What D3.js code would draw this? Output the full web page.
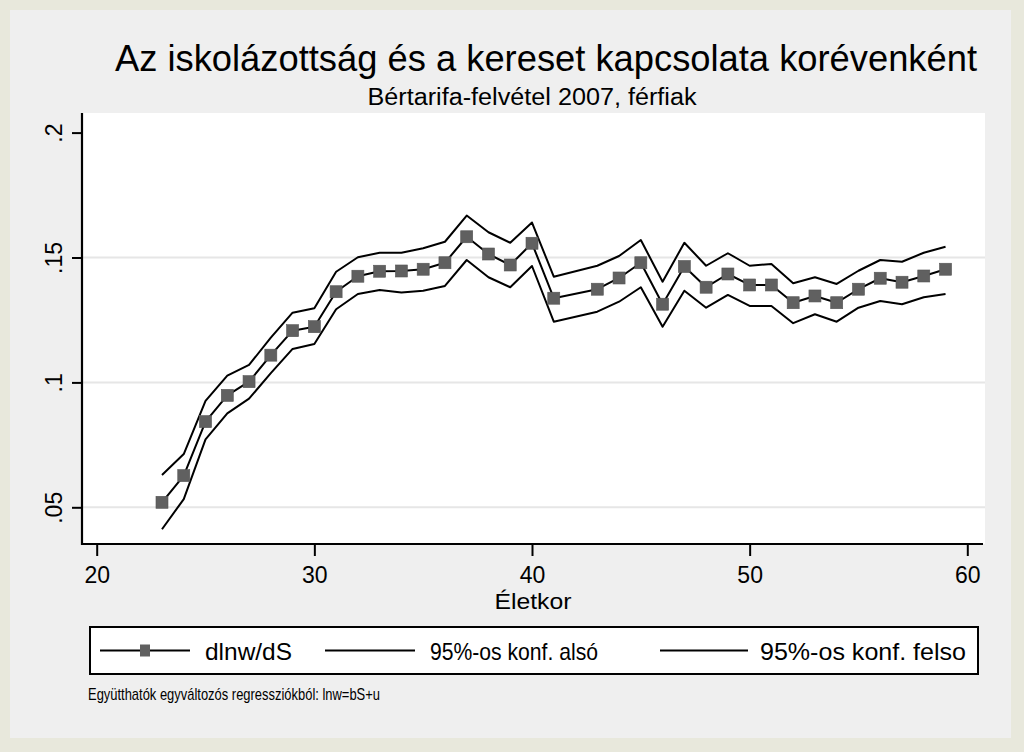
<!DOCTYPE html>
<html><head><meta charset="utf-8">
<script src="https://cdn.jsdelivr.net/npm/d3@7"></script>
<style>body{margin:0;background:#e8e8dc;} svg{display:block}</style>
</head><body><svg id="c" width="1024" height="752"></svg>
<script>
const ages  = [23,24,25,26,27,28,29,30,31,32,33,34,35,36,37,38,39,40,41,43,44,45,46,47,48,49,50,51,52,53,54,55,56,57,58,59];
const coef  = [0.0520,0.0627,0.0843,0.0948,0.1003,0.1109,0.1207,0.1223,0.1363,0.1425,0.1445,0.1446,0.1453,0.1479,0.1583,0.1514,0.1470,0.1557,0.1337,0.1373,0.1418,0.1479,0.1313,0.1464,0.1381,0.1434,0.1390,0.1390,0.1319,0.1346,0.1319,0.1373,0.1417,0.1401,0.1426,0.1453];
const lower = [0.0412,0.0533,0.0772,0.0876,0.0935,0.1037,0.1134,0.1154,0.1293,0.1354,0.1370,0.1360,0.1367,0.1386,0.1490,0.1421,0.1381,0.1466,0.1243,0.1283,0.1323,0.1381,0.1223,0.1367,0.1299,0.1350,0.1306,0.1306,0.1237,0.1273,0.1243,0.1299,0.1326,0.1313,0.1341,0.1354];
const upper = [0.0629,0.0713,0.0926,0.1027,0.1070,0.1179,0.1279,0.1297,0.1443,0.1501,0.1519,0.1519,0.1537,0.1563,0.1668,0.1601,0.1559,0.1640,0.1423,0.1467,0.1506,0.1570,0.1403,0.1559,0.1467,0.1517,0.1467,0.1474,0.1397,0.1421,0.1394,0.1447,0.1490,0.1483,0.1519,0.1543];
const yTicks = [0.05, 0.1, 0.15, 0.2];
const yTickLabels = [".05", ".1", ".15", ".2"];
const yGrid = [0.05, 0.1, 0.15];
const xTicks = [20, 30, 40, 50, 60];
const seriesLabels = ["dlnw/dS", "95%-os konf. alsó", "95%-os konf. felso"];
const titleText = "Az iskolázottság és a kereset kapcsolata korévenként";
const subtitleText = "Bértarifa-felvétel 2007, férfiak";
const xTitle = "Életkor";
const noteText = "Együtthatók egyváltozós regressziókból: lnw=bS+u";

const svg = d3.select("#c");
const FONT = "'Liberation Sans', Arial, sans-serif";

// backgrounds
svg.append("rect").attr("width",1024).attr("height",752).attr("fill","#e8e8dc");
svg.append("rect").attr("x",10).attr("y",10).attr("width",1001).attr("height",728).attr("fill","#efefef");

const plot = {l:82, r:985, t:113, b:544};
svg.append("rect").attr("x",plot.l).attr("y",plot.t).attr("width",plot.r-plot.l).attr("height",plot.b-plot.t).attr("fill","#ffffff");

const x = d3.scaleLinear().domain([20,60]).range([96.7,967.3]);
const y = d3.scaleLinear().domain([0.05,0.2]).range([507.3,132.6]);

// grid
svg.append("g").selectAll("line").data(yGrid).join("line")
  .attr("x1",plot.l).attr("x2",plot.r).attr("y1",d=>y(d)).attr("y2",d=>y(d))
  .attr("stroke","#e6e6e6").attr("stroke-width",2);

// axes
const yAxis = d3.axisLeft(y).tickValues(yTicks).tickSize(10).tickPadding(10)
  .tickFormat((d,i)=>yTickLabels[i]);
const gy = svg.append("g").attr("transform",`translate(${plot.l},0)`).call(yAxis);
gy.select(".domain").remove();
gy.selectAll(".tick line").attr("stroke","#000").attr("stroke-width",2);
gy.selectAll(".tick text").attr("transform","rotate(-90)")
  .attr("dy",null).attr("x",0).attr("y",-20).attr("text-anchor","middle")
  .attr("font-family",FONT).attr("font-size",23).attr("fill","#000");

const xAxis = d3.axisBottom(x).tickValues(xTicks).tickSize(12).tickPadding(6);
const gx = svg.append("g").attr("transform",`translate(0,${plot.b})`).call(xAxis);
gx.select(".domain").remove();
gx.selectAll(".tick line").attr("stroke","#000").attr("stroke-width",2);
gx.selectAll(".tick text").attr("font-family",FONT).attr("font-size",23).attr("fill","#000")
  .attr("y",null).attr("dy",null).attr("y",39);

svg.append("line").attr("x1",plot.l).attr("x2",plot.l).attr("y1",plot.t).attr("y2",plot.b+1)
  .attr("stroke","#000").attr("stroke-width",2.2);
svg.append("line").attr("x1",plot.l-1).attr("x2",plot.r-2).attr("y1",plot.b).attr("y2",plot.b)
  .attr("stroke","#000").attr("stroke-width",2.2);

// lines
const mk = (vals)=> d3.line().x((d,i)=>x(ages[i])).y((d,i)=>y(vals[i]));
[lower, upper, coef].forEach(vals=>{
  svg.append("path").datum(vals).attr("d",mk(vals)).attr("fill","none")
    .attr("stroke","#000").attr("stroke-width",2).attr("stroke-linejoin","round");
});
const MS = 12;
svg.append("g").selectAll("rect").data(coef).join("rect")
  .attr("x",(d,i)=>x(ages[i])-MS/2).attr("y",d=>y(d)-MS/2)
  .attr("width",MS).attr("height",MS).attr("fill","#606060").attr("stroke","#555").attr("stroke-width",0.6);

// titles
svg.append("text").attr("x",546).attr("y",71).attr("text-anchor","middle")
  .attr("font-family",FONT).attr("font-size",36).attr("fill","#000")
  .attr("textLength",862).attr("lengthAdjust","spacingAndGlyphs").text(titleText);
svg.append("text").attr("x",532).attr("y",105).attr("text-anchor","middle")
  .attr("font-family",FONT).attr("font-size",23).attr("fill","#000")
  .attr("textLength",329).attr("lengthAdjust","spacingAndGlyphs").text(subtitleText);
svg.append("text").attr("x",533).attr("y",609).attr("text-anchor","middle")
  .attr("font-family",FONT).attr("font-size",22).attr("fill","#000")
  .attr("textLength",77).attr("lengthAdjust","spacingAndGlyphs").text(xTitle);

// legend
svg.append("rect").attr("x",90).attr("y",627).attr("width",888).attr("height",47)
  .attr("fill","#fff").attr("stroke","#000").attr("stroke-width",2);
const leg = [
  {x1:100,x2:190,tx:205,tw:87,marker:true},
  {x1:325,x2:415,tx:430,tw:168,marker:false},
  {x1:660,x2:748,tx:760,tw:206,marker:false}
];
const ly = 650.5;
leg.forEach((d,i)=>{
  svg.append("line").attr("x1",d.x1).attr("x2",d.x2).attr("y1",ly).attr("y2",ly).attr("stroke","#000").attr("stroke-width",2);
  if(d.marker) svg.append("rect").attr("x",(d.x1+d.x2)/2-5).attr("y",ly-6).attr("width",10).attr("height",12).attr("fill","#606060");
  svg.append("text").attr("x",d.tx).attr("y",ly+9).attr("font-family",FONT).attr("font-size",24).attr("fill","#000")
    .attr("textLength",d.tw).attr("lengthAdjust","spacingAndGlyphs").text(seriesLabels[i]);
});
svg.append("text").attr("x",88).attr("y",700).attr("font-family",FONT).attr("font-size",17).attr("fill","#000")
  .attr("textLength",292).attr("lengthAdjust","spacingAndGlyphs").text(noteText);
</script></body></html>
